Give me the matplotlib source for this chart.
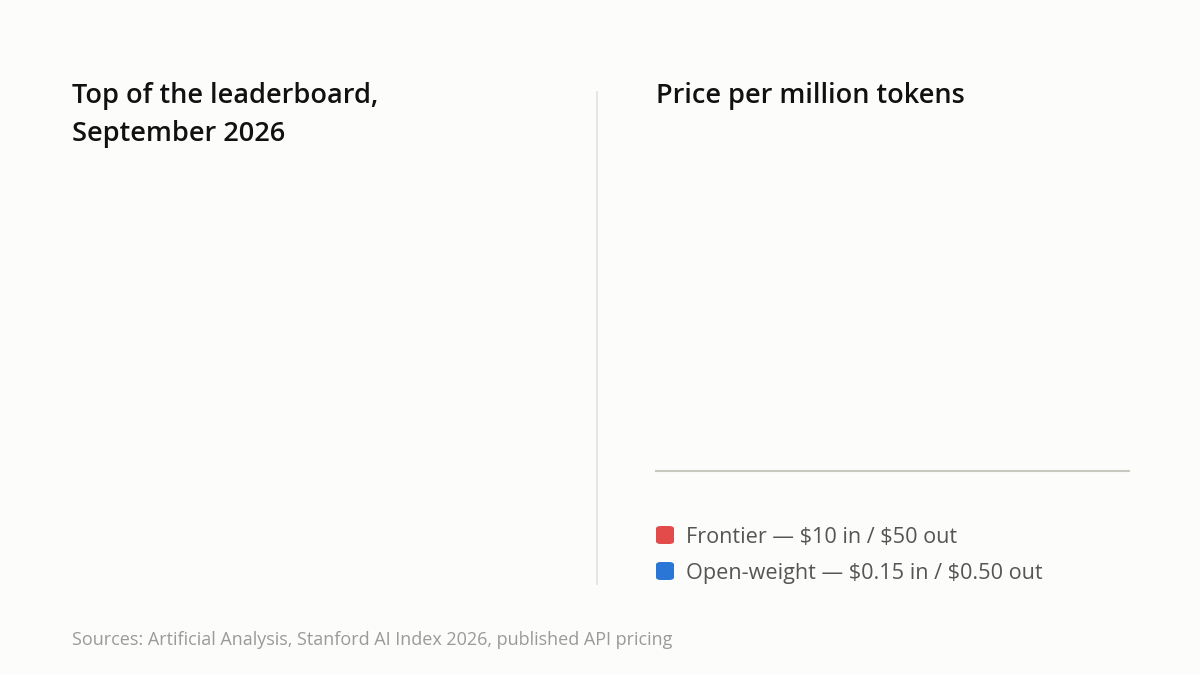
import matplotlib
matplotlib.use('Agg')
import matplotlib.pyplot as plt
from matplotlib.patches import FancyBboxPatch

"""## Data"""

leftTitle = 'Top of the leaderboard,\nSeptember 2026'
rightTitle = 'Price per million tokens'
tiers = ['Frontier', 'Open-weight']
priceIn = ['$10', '$0.15']
priceOut = ['$50', '$0.50']
tierColors = ['#e24b4a', '#2a76d6']
source = 'Sources: Artificial Analysis, Stanford AI Index 2026, published API pricing'

"""## Plot"""

BG = '#fcfcfa'
W, H = 1200, 675
plt.rcParams['font.family'] = ['Open Sans', 'DejaVu Sans']
plt.rcParams['text.parse_math'] = False  # keep the dollar signs literal

fig = plt.figure(figsize=(W / 100, H / 100), dpi=100, facecolor=BG)

def fx(px):
  return px / W

def fy(py):
  return 1 - py / H

# Titles
fig.text(fx(72), fy(82), leftTitle, fontsize=19.5, fontweight='semibold', color='#111111',
         va='top', ha='left', linespacing=1.5)
fig.text(fx(656), fy(82), rightTitle, fontsize=19.5, fontweight='semibold', color='#111111',
         va='top', ha='left')

# Divider between the panels
fig.add_artist(plt.Line2D([fx(597), fx(597)], [fy(92), fy(584)], color='#e2e2de', linewidth=1.2))

# Price panel: baseline only
ax = fig.add_axes([fx(656), fy(471), fx(1129) - fx(656), fy(130) - fy(471)])
ax.set_facecolor(BG)
for side in ['top', 'right', 'left']:
  ax.spines[side].set_visible(False)
ax.spines['bottom'].set_color('#c8c8c0')
ax.spines['bottom'].set_linewidth(1.5)
ax.set_xticks([])
ax.set_yticks([])
ax.set_xlim(0, 1)
ax.set_ylim(0, 1)

# Legend
for i, (tier, pin, pout, col) in enumerate(zip(tiers, priceIn, priceOut, tierColors)):
  yc = 535 + i * 36
  box = FancyBboxPatch((fx(656), fy(yc + 9)), fx(18), 18 / H,
                       boxstyle='round,pad=0,rounding_size=0.004',
                       transform=fig.transFigure, facecolor=col, edgecolor='none')
  fig.patches.append(box)
  fig.text(fx(686), fy(yc + 2.5), '{} \u2014 {} in / {} out'.format(tier, pin, pout),
           fontsize=15.6, color='#555555', va='center', ha='left')

# Source line
fig.text(fx(72), fy(640), source, fontsize=13, color='#9a9a9a', va='center', ha='left')

plt.savefig('out.png', dpi=100, facecolor=BG)
